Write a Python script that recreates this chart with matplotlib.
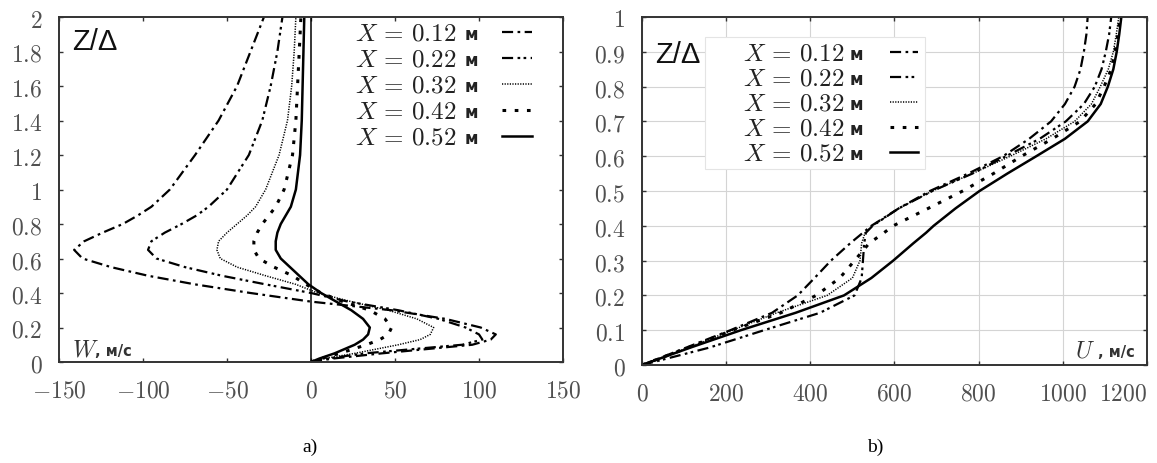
import matplotlib
matplotlib.use("Agg")
import matplotlib.pyplot as plt
from matplotlib.patches import Rectangle

plt.rcParams['mathtext.fontset'] = 'cm'
plt.rcParams['font.family'] = ['DejaVu Sans']

# ---------------- data: panel a) W(Z/Delta) ----------------
z_w = [0, 0.02, 0.05, 0.1, 0.13, 0.16, 0.2, 0.25, 0.3, 0.35, 0.4, 0.45, 0.5,
       0.55, 0.6, 0.65, 0.7, 0.75, 0.8, 0.85, 0.9, 1.0, 1.2, 1.4, 1.6, 1.8, 2.0]
w_012 = [0, 13, 42, 96, 107, 110, 101, 80, 48, 0, -36, -69, -97,
         -119, -136, -141, -135, -124, -112, -103, -95, -84, -69, -55, -44, -36, -28]
w_022 = [0, 10, 32, 90, 102, 100, 92, 76, 52, 22, 0, -27, -53,
         -75, -92, -97, -95, -87, -77, -68, -61, -50, -37, -29, -24, -20, -17]
w_032 = [0, 8, 26, 52, 65, 71, 73, 63, 46, 24, 4, -9, -27,
         -44, -54, -56, -55, -50, -44, -38, -33, -27, -19, -14, -11.5, -10, -9]
w_042 = [0, 6, 17, 33, 41, 46, 48, 44, 35, 19, 6, -3, -11,
         -22, -31, -34, -34, -32, -29, -25, -21, -16, -11, -9, -8, -7, -6]
w_052 = [0, 5, 14, 26, 31, 34, 35, 31, 24, 15, 6, -1.5, -7,
         -12.5, -18, -21, -21, -20, -18, -15, -12, -9, -6.5, -5.5, -5, -4.5, -4]

# ---------------- data: panel b) U(Z/Delta) ----------------
z_u = [0, 0.05, 0.1, 0.15, 0.2, 0.25, 0.3, 0.35, 0.38, 0.4, 0.45, 0.5, 0.55,
       0.6, 0.65, 0.7, 0.75, 0.8, 0.85, 0.9, 0.95, 1.0]
u_012 = [0, 105, 210, 309, 370, 410, 449, 495, 525, 545, 610, 684, 775,
         858, 920, 972, 1005, 1028, 1042, 1050, 1056, 1059]
u_022 = [0, 160, 290, 423, 505, 522, 525, 528, 532, 548, 610, 690, 785,
         865, 945, 1007, 1050, 1076, 1092, 1102, 1110, 1115]
u_032 = [0, 110, 215, 320, 440, 500, 518, 522, 530, 548, 610, 690, 785,
         875, 960, 1028, 1068, 1089, 1108, 1120, 1127, 1133]
u_042 = [0, 110, 215, 330, 414, 470, 505, 540, 575, 597, 680, 762, 835,
         902, 975, 1041, 1078, 1098, 1115, 1124, 1131, 1136]
u_052 = [0, 115, 235, 365, 480, 545, 597, 645, 675, 693, 745, 802, 868,
         937, 1005, 1059, 1090, 1107, 1120, 1128, 1134, 1139]

labels = ['0.12', '0.22', '0.32', '0.42', '0.52']
w_series = [w_012, w_022, w_032, w_042, w_052]
u_series = [u_012, u_022, u_032, u_042, u_052]

styles = [dict(ls=(0, (5, 2, 1.2, 2)), lw=1.6),
          dict(ls=(0, (5, 2, 1.2, 1.5, 1.2, 2)), lw=1.6),
          dict(ls=(0, (0.8, 0.9)), lw=1.1),
          dict(ls=(0, (1.2, 2.8)), lw=2.2),
          dict(ls='-', lw=1.8)]

w_xticks = [-150, -100, -50, 0, 50, 100, 150]
w_yticks = [0, 0.2, 0.4, 0.6, 0.8, 1.0, 1.2, 1.4, 1.6, 1.8, 2.0]
w_yticklabels = ['0', '0.2', '0.4', '0.6', '0.8', '1', '1.2', '1.4', '1.6', '1.8', '2']
u_xticks = [0, 200, 400, 600, 800, 1000, 1200]
u_yticks = [0, 0.1, 0.2, 0.3, 0.4, 0.5, 0.6, 0.7, 0.8, 0.9, 1.0]
u_yticklabels = ['0', '0.1', '0.2', '0.3', '0.4', '0.5', '0.6', '0.7', '0.8', '0.9', '1']

W, H = 1157, 464
fig = plt.figure(figsize=(W / 100, H / 100), dpi=100)
ax1 = fig.add_axes([59 / W, (H - 363) / H, 504 / W, 345 / H])
ax2 = fig.add_axes([642 / W, (H - 366) / H, 505 / W, 348 / H])

tick_col = '#505050'
for ax in (ax1, ax2):
    for sp in ax.spines.values():
        sp.set_linewidth(1.4)
        sp.set_color('#333333')
    ax.tick_params(direction='in', length=3, width=1, top=True, right=True,
                   labelsize=17, labelcolor=tick_col, color='#333333')
    ax.tick_params(axis='x', pad=11)
    ax.tick_params(axis='y', pad=12)

# panel a
for s, st in zip(w_series, styles):
    ax1.plot(s, z_w, color='black', **st)
ax1.axvline(0, color='black', lw=1.1)
ax1.set_xlim(-150, 150)
ax1.set_ylim(0, 2)
ax1.set_xticks(w_xticks)
ax1.set_xticklabels(['$%d$' % v for v in w_xticks])
ax1.set_yticks(w_yticks)
ax1.set_yticklabels(['$%s$' % v for v in w_yticklabels])

# panel b
ax2.grid(True, color='#d4d4d4', lw=0.8)
ax2.set_axisbelow(True)
for s, st in zip(u_series, styles):
    ax2.plot(s, z_u, color='black', **st)
ax2.set_xlim(0, 1200)
ax2.set_ylim(0, 1)
ax2.set_xticks(u_xticks)
ax2.set_xticklabels(['$%d$' % v for v in u_xticks])
ax2.get_xticklabels()[-1].set_horizontalalignment('right')
ax2.set_yticks(u_yticks)
ax2.set_yticklabels(['$%s$' % v for v in u_yticklabels])


def manual_legend(ax, x_text, x_unit, x_l0, x_l1, y0, dy, box=None):
    if box is not None:
        ax.add_patch(Rectangle((box[0], box[1]), box[2], box[3], transform=ax.transAxes,
                               facecolor='white', edgecolor='#e4e4e4', lw=0.8, zorder=4))
    for i, (lab, st) in enumerate(zip(labels, styles)):
        y = y0 - i * dy
        ax.text(x_text, y, r'$X\,=\,%s$' % lab, transform=ax.transAxes, fontsize=18,
                ha='left', va='center', color='#222222', zorder=5)
        ax.text(x_unit, y - 0.006, 'м', transform=ax.transAxes, fontsize=12,
                fontweight='bold', ha='left', va='center', color='#222222', zorder=5)
        ax.plot([x_l0, x_l1], [y, y], transform=ax.transAxes, color='black',
                zorder=5, clip_on=False, **st)


manual_legend(ax1, 0.587, 0.804, 0.879, 0.938, 0.956, 0.0754)
manual_legend(ax2, 0.200, 0.411, 0.491, 0.547, 0.899, 0.0718,
              box=(0.125, 0.563, 0.435, 0.38))

# Z/Delta labels
ax1.text(0.026, 0.93, 'Z/Δ', transform=ax1.transAxes, fontsize=21,
         family='Liberation Sans', ha='left', va='center', color='#111111')
ax2.text(0.026, 0.894, 'Z/Δ', transform=ax2.transAxes, fontsize=21,
         family='Liberation Sans', ha='left', va='center', color='#111111', zorder=6)

# axis quantity labels
ax1.text(0.026, 0.04, r'$W$', transform=ax1.transAxes, fontsize=17,
         ha='left', va='center', color='#333333')
ax1.text(0.072, 0.033, ', м/с', transform=ax1.transAxes, fontsize=10.5,
         fontweight='bold', ha='left', va='center', color='#333333')
ax2.text(0.857, 0.045, r'$U$', transform=ax2.transAxes, fontsize=17,
         ha='left', va='center', color='#333333')
ax2.text(0.976, 0.038, ', м/с', transform=ax2.transAxes, fontsize=10.5,
         fontweight='bold', ha='right', va='center', color='#333333')

fig.text(310 / W, 1 - 447 / H, 'a)', fontsize=14, family='Liberation Serif',
         ha='center', va='center')
fig.text(875 / W, 1 - 447 / H, 'b)', fontsize=14, family='Liberation Serif',
         ha='center', va='center')

fig.savefig('out.png', dpi=100)
